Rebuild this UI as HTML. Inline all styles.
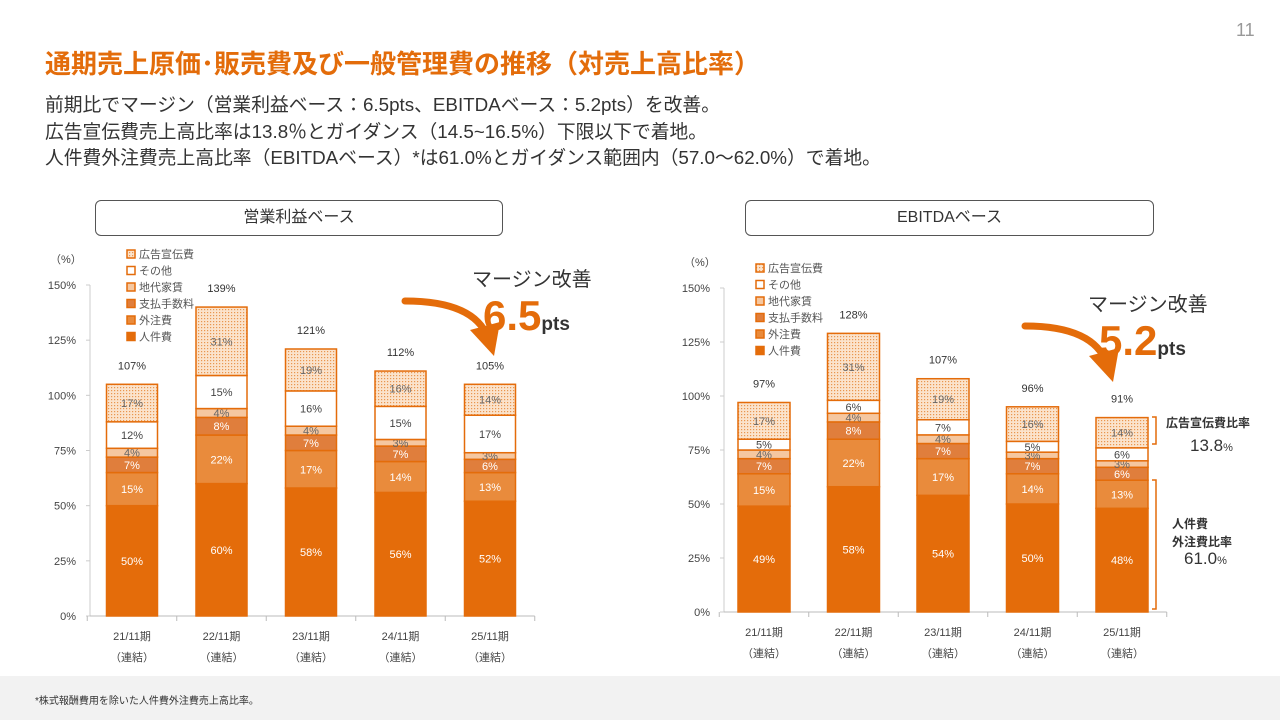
<!DOCTYPE html>
<html><head><meta charset="utf-8">
<style>
body{margin:0;width:1280px;height:720px;background:#fff;font-family:"Liberation Sans","Noto Sans CJK JP",sans-serif;position:relative;overflow:hidden;color:#333}
.abs{position:absolute;white-space:nowrap}
</style></head><body>
<div class="abs" style="left:1236px;top:20px;font-size:18px;color:#999">11</div>
<div class="abs" style="left:45px;top:44px;font-size:26px;font-weight:bold;color:#e36c0a">通期売上原価･販売費及び一般管理費の推移（対売上高比率）</div>
<div class="abs" style="left:45px;top:92px;font-size:18.8px;line-height:26.5px;color:#333">前期比でマージン（営業利益ベース：6.5pts、EBITDAベース：5.2pts）を改善。<br>広告宣伝費売上高比率は13.8％とガイダンス（14.5~16.5%）下限以下で着地。<br>人件費外注費売上高比率（EBITDAベース）*は61.0%とガイダンス範囲内（57.0〜62.0%）で着地。</div>
<div class="abs" style="left:95px;top:200px;width:406px;height:34px;border:1px solid #555;border-radius:6px;text-align:center;line-height:34px;font-size:16px">営業利益ベース</div>
<div class="abs" style="left:745px;top:200px;width:407px;height:34px;border:1px solid #555;border-radius:6px;text-align:center;line-height:34px;font-size:16px">EBITDAベース</div>
<div class="abs" style="left:0;top:676px;width:1280px;height:44px;background:#f2f2f2"></div>
<div class="abs" style="left:35px;top:692px;font-size:10px;color:#333">*株式報酬費用を除いた人件費外注費売上高比率。</div>

<svg id="chart" width="1280" height="720" style="position:absolute;left:0;top:0">
<defs><pattern id="dots" width="3" height="3" patternUnits="userSpaceOnUse"><rect width="3" height="3" fill="#fbe3cc"/><rect width="1.2" height="1.2" fill="#e9964f"/></pattern></defs>
</svg>
<script>
const categories=["21/11期","22/11期","23/11期","24/11期","25/11期"];
const seriesNames=["人件費","外注費","支払手数料","地代家賃","その他","広告宣伝費"];
const leftPersonnel=[50,60,58,56,52];
const leftOutsource=[15,22,17,14,13];
const leftFees=[7,8,7,7,6];
const leftRent=[4,4,4,3,3];
const leftOther=[12,15,16,15,17];
const leftAd=[17,31,19,16,14];
const leftTotals=[107,139,121,112,105];
const rightPersonnel=[49,58,54,50,48];
const rightOutsource=[15,22,17,14,13];
const rightFees=[7,8,7,7,6];
const rightRent=[4,4,4,3,3];
const rightOther=[5,6,7,5,6];
const rightAd=[17,31,19,16,14];
const rightTotals=[97,128,107,96,91];
const yTicks=[0,25,50,75,100,125,150];

const NS="http://www.w3.org/2000/svg";
const svg=document.getElementById('chart');
function mk(tag,attrs,text){const e=document.createElementNS(NS,tag);for(const k in attrs)e.setAttribute(k,attrs[k]);if(text!==undefined)e.textContent=text;svg.appendChild(e);return e;}
const fills=["#e46c0a","#e98b3c","#e07e3c","#f5c7a0","#ffffff","url(#dots)"];
const txtCol=["#fff","#fff","#fff","#666","#444","#666"];

function drawChart(cfg){
  const y=v=>cfg.y0-v*cfg.k;
  const x=i=>cfg.x0+i*cfg.dx;
  const ax=mk('line',{x1:cfg.axX,x2:cfg.axX,y1:y(0),y2:y(150),stroke:'#ccc'});
  
  const bx=mk('line',{x1:cfg.axX,x2:x(4)+cfg.dx/2,y1:y(0),y2:y(0),stroke:'#bbb'});
  
  yTicks.forEach(t=>{
    const tk=mk('line',{x1:cfg.axX-4,x2:cfg.axX,y1:y(t),y2:y(t),stroke:'#ccc'});
    
    const tl=mk('text',{x:cfg.axX-14,y:y(t)+4,'text-anchor':'end','font-size':11,fill:'#444'},t+'%');
    
  });
  for(let i=0;i<=5;i++){const t=mk('line',{x1:cfg.x0-cfg.dx/2+i*cfg.dx,x2:cfg.x0-cfg.dx/2+i*cfg.dx,y1:y(0),y2:y(0)+5,stroke:'#bbb'});}
  const u=mk('text',{x:cfg.axX-40,y:y(150)-22,'font-size':11,fill:'#444'},'（%）');
  
  categories.forEach((c,i)=>{
    let cum=0;const bw=cfg.bw;
    cfg.series.forEach((s,j)=>{
      const v=s[i];
      const r=mk('rect',{x:x(i)-bw/2,y:y(cum+v),width:bw,height:v*cfg.k,fill:fills[j],stroke:'#e46c0a','stroke-width':1.5});
      
      
      const t=mk('text',{x:x(i),y:y(cum+v/2)+4,'text-anchor':'middle','font-size':11,fill:txtCol[j]},v+'%');
      
      
      cum+=v;
    });
    const tt=mk('text',{x:x(i),y:y(cum)-15,'text-anchor':'middle','font-size':11,fill:'#333'},cfg.totals[i]+'%');
    
    
    const cl=mk('text',{x:x(i),y:y(0)+24,'text-anchor':'middle','font-size':11,fill:'#444'},c);
    
    
    const c2=mk('text',{x:x(i),y:y(0)+45,'text-anchor':'middle','font-size':11,fill:'#444'},'（連結）');
    
    
  });
  const order=[5,4,3,2,1,0];
  order.forEach((j,n)=>{
    const ly=cfg.ly+n*16.5;
    const r=mk('rect',{x:cfg.lx,y:ly-8,width:8,height:8,fill:fills[j],stroke:'#e46c0a','stroke-width':1.5});
    
    const t=mk('text',{x:cfg.lx+12,y:ly,'font-size':11,fill:'#555'},seriesNames[j]);
    
  });
}
drawChart({y0:616,k:331/150,x0:132,dx:89.5,bw:51,axX:90,series:[leftPersonnel,leftOutsource,leftFees,leftRent,leftOther,leftAd],totals:leftTotals,lx:127,ly:258});
drawChart({y0:612,k:324/150,x0:764,dx:89.5,bw:52,axX:724,series:[rightPersonnel,rightOutsource,rightFees,rightRent,rightOther,rightAd],totals:rightTotals,lx:756,ly:272});

function arrow(x1,y1,x2,y2,name){
  const p=mk('path',{d:`M${x1},${y1} Q${(x1+x2)/2+25},${y1} ${x2-6},${y2-14}`,stroke:'#e46c0a','stroke-width':7,fill:'none','stroke-linecap':'round'});
  
  const h=mk('polygon',{points:`${x2-24},${y2-22} ${x2+6},${y2-30} ${x2},${y2+4}`,fill:'#e46c0a'});
  
}
arrow(405,301,494,352,'left-arrow');
arrow(1025,326,1113,378,'right-arrow');
function label(x,y,html,name){const d=document.createElement('div');d.className='abs';d.style.left=x+'px';d.style.top=y+'px';d.innerHTML=html;document.body.appendChild(d);}
label(472,263,'<span style="font-size:20px;color:#333">マージン改善</span>','left-margin-title');
label(483,292,'<span style="font-size:42px;color:#e46c0a;font-weight:bold">6.5</span><span style="font-size:19px;color:#333;font-weight:bold">pts</span>','left-margin-value');
label(1088,288,'<span style="font-size:20px;color:#333">マージン改善</span>','right-margin-title');
label(1099,317,'<span style="font-size:42px;color:#e46c0a;font-weight:bold">5.2</span><span style="font-size:19px;color:#333;font-weight:bold">pts</span>','right-margin-value');
label(1166,414,'<span style="font-size:12px;font-weight:bold;color:#333">広告宣伝費比率</span>','ad-ratio-title');
label(1190,436,'<span style="font-size:17px;color:#333">13.8</span><span style="font-size:11px">%</span>','ad-ratio-value');
label(1172,515,'<span style="font-size:12px;font-weight:bold;color:#333;line-height:17px">人件費<br>外注費比率</span>','personnel-ratio-title');
label(1184,549,'<span style="font-size:17px;color:#333">61.0</span><span style="font-size:11px">%</span>','personnel-ratio-value');
const b1=mk('path',{d:'M1152,417 h4 v27 h-4',stroke:'#e46c0a','stroke-width':1.5,fill:'none'});

const b2=mk('path',{d:'M1152,480 h4 v129 h-4',stroke:'#e46c0a','stroke-width':1.5,fill:'none'});

</script>
</body></html>
